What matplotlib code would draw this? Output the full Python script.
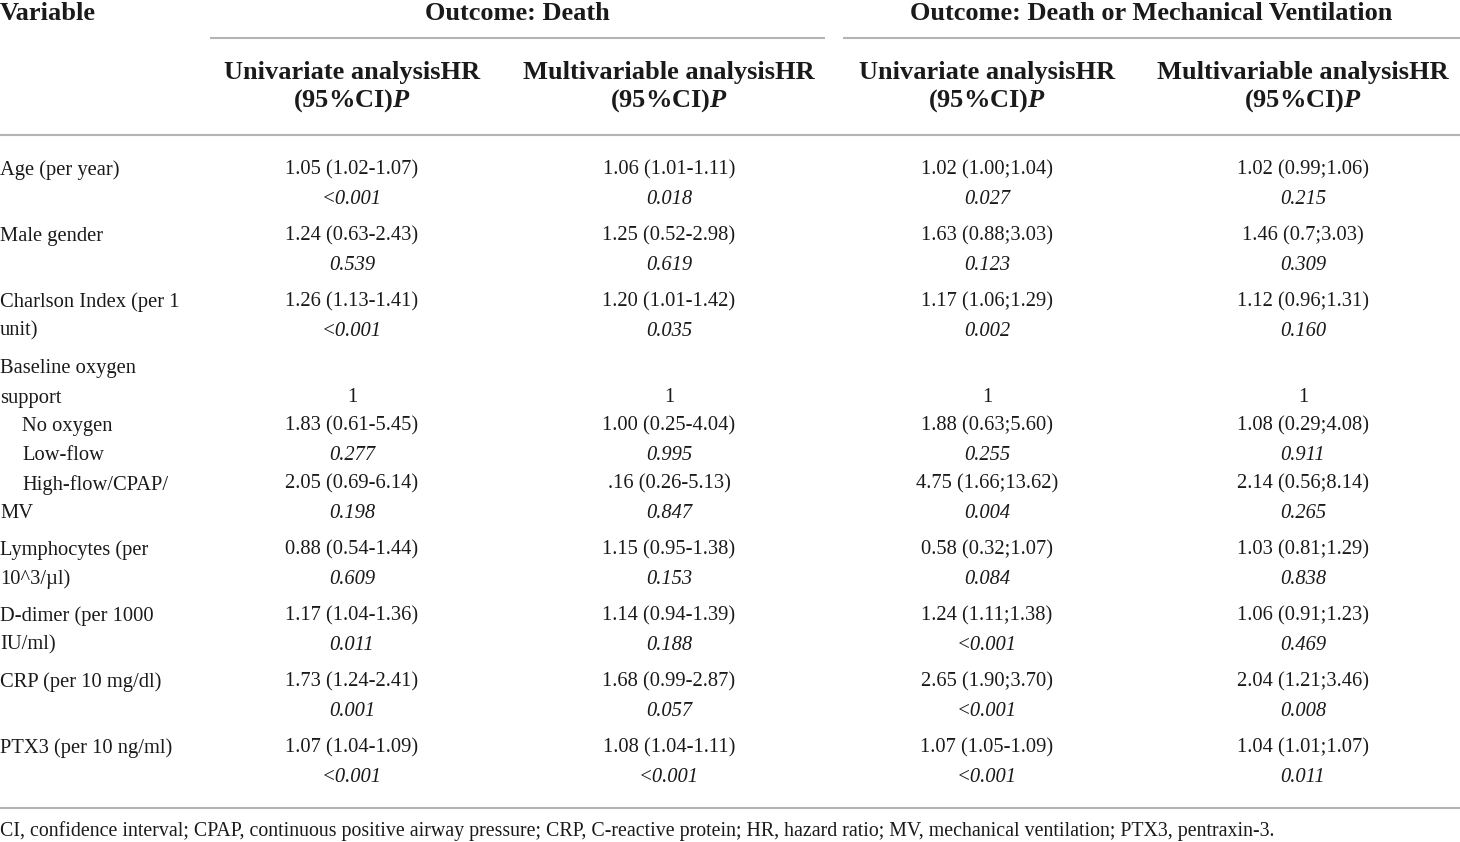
import matplotlib
matplotlib.use("Agg")
import matplotlib.pyplot as plt

plt.rcParams["mathtext.fontset"] = "custom"
plt.rcParams["mathtext.rm"] = "Liberation Serif"
plt.rcParams["mathtext.it"] = "Liberation Serif:italic"
plt.rcParams["mathtext.bf"] = "Liberation Serif:bold"
plt.rcParams["mathtext.bfit"] = "Liberation Serif:italic:bold"

# ---------------- data ----------------
outcomes = ["Outcome: Death", "Outcome: Death or Mechanical Ventilation"]
subheaders = ["Univariate analysisHR", "Multivariable analysisHR",
              "Univariate analysisHR", "Multivariable analysisHR"]
subheader2 = r"(95%CI)$\mathbfit{P}$"

# variable label lines (text, indent)
label_lines = [
    [("Age (per year)", 0)],
    [("Male gender", 0)],
    [("Charlson Index (per 1", 0), ("unit)", 0)],
    [("Baseline oxygen", 0), ("support", 0), ("No oxygen", 1), ("Low-flow", 1),
     ("High-flow/CPAP/", 1), ("MV", 0)],
    [("Lymphocytes (per", 0), ("10^3/\u00b5l)", 0)],
    [("D-dimer (per 1000", 0), ("IU/ml)", 0)],
    [("CRP (per 10 mg/dl)", 0)],
    [("PTX3 (per 10 ng/ml)", 0)],
]

# entries (HR + P) as shown, in order
death_uni_hr = ["1.05 (1.02-1.07)", "1.24 (0.63-2.43)", "1.26 (1.13-1.41)", "1",
                "1.83 (0.61-5.45)", "2.05 (0.69-6.14)", "0.88 (0.54-1.44)",
                "1.17 (1.04-1.36)", "1.73 (1.24-2.41)", "1.07 (1.04-1.09)"]
death_uni_p = ["<0.001", "0.539", "<0.001", None, "0.277", "0.198", "0.609",
               "0.011", "0.001", "<0.001"]
death_multi_hr = ["1.06 (1.01-1.11)", "1.25 (0.52-2.98)", "1.20 (1.01-1.42)", "1",
                  "1.00 (0.25-4.04)", ".16 (0.26-5.13)", "1.15 (0.95-1.38)",
                  "1.14 (0.94-1.39)", "1.68 (0.99-2.87)", "1.08 (1.04-1.11)"]
death_multi_p = ["0.018", "0.619", "0.035", None, "0.995", "0.847", "0.153",
                 "0.188", "0.057", "<0.001"]
dmv_uni_hr = ["1.02 (1.00;1.04)", "1.63 (0.88;3.03)", "1.17 (1.06;1.29)", "1",
              "1.88 (0.63;5.60)", "4.75 (1.66;13.62)", "0.58 (0.32;1.07)",
              "1.24 (1.11;1.38)", "2.65 (1.90;3.70)", "1.07 (1.05-1.09)"]
dmv_uni_p = ["0.027", "0.123", "0.002", None, "0.255", "0.004", "0.084",
             "<0.001", "<0.001", "<0.001"]
dmv_multi_hr = ["1.02 (0.99;1.06)", "1.46 (0.7;3.03)", "1.12 (0.96;1.31)", "1",
                "1.08 (0.29;4.08)", "2.14 (0.56;8.14)", "1.03 (0.81;1.29)",
                "1.06 (0.91;1.23)", "2.04 (1.21;3.46)", "1.04 (1.01;1.07)"]
dmv_multi_p = ["0.215", "0.309", "0.160", None, "0.911", "0.265", "0.838",
               "0.469", "0.008", "0.011"]

footnote = ("CI, confidence interval; CPAP, continuous positive airway pressure; "
            "CRP, C-reactive protein; HR, hazard ratio; MV, mechanical ventilation; "
            "PTX3, pentraxin-3.")

# ---------------- layout ----------------
W, H = 1460, 842
fig = plt.figure(figsize=(W / 100, H / 100), dpi=100)
ax = fig.add_axes([0, 0, 1, 1])
ax.set_xlim(0, W)
ax.set_ylim(H, 0)
ax.axis("off")

FONT = "Liberation Serif"
BODY = 14.8
HEAD = 19.0
FOOT = 14.3
LINEC = "#b4b4b4"
TXT = "#1a1a1a"
DY = 3

col_x = [352, 669, 987, 1303]
outcome_x = [517, 1151]
span_ranges = [(210, 825), (843, 1460)]

# header
ax.text(0, 13, "Variable", fontsize=HEAD, fontweight="bold", family=FONT,
        ha="left", va="center", color=TXT)
for x, t in zip(outcome_x, outcomes):
    ax.text(x, 13, t, fontsize=HEAD, fontweight="bold", family=FONT,
            ha="center", va="center", color=TXT)
for (x0, x1) in span_ranges:
    ax.plot([x0, x1], [38, 38], color=LINEC, lw=1.5, solid_capstyle="butt")

for x, t in zip(col_x, subheaders):
    ax.text(x, 70 + DY, t, fontsize=HEAD, fontweight="bold", family=FONT,
            ha="center", va="center", color=TXT)
    ax.text(x, 98 + DY, subheader2, fontsize=HEAD, fontweight="bold",
            family=FONT, ha="center", va="center", color=TXT)
ax.plot([0, W], [135, 135], color=LINEC, lw=1.5)
ax.plot([0, W], [808, 808], color=LINEC, lw=1.5)

# body rows
line_h = 29
label_start = [167, 233, 299, 366, 547, 613, 679, 745]
for y0, lines in zip(label_start, label_lines):
    for i, (txt, ind) in enumerate(lines):
        ax.text(22 * ind, y0 + i * line_h + DY, txt, fontsize=BODY, family=FONT,
                ha="left", va="center", color=TXT)

hr_y = [167, 233, 299, 394, 423, 481, 547, 613, 679, 745]
columns = [(death_uni_hr, death_uni_p), (death_multi_hr, death_multi_p),
           (dmv_uni_hr, dmv_uni_p), (dmv_multi_hr, dmv_multi_p)]
for x, (hrs, ps) in zip(col_x, columns):
    for y, hr, p in zip(hr_y, hrs, ps):
        ax.text(x, y + DY, hr, fontsize=BODY, family=FONT, ha="center",
                va="center", color=TXT)
        if p is not None:
            ax.text(x, y + line_h + DY, p, fontsize=BODY, family=FONT,
                    style="italic", ha="center", va="center", color=TXT)

ax.text(0, 831, footnote, fontsize=FOOT, family=FONT, ha="left", va="center",
        color=TXT)

fig.savefig("out.png", dpi=100)
